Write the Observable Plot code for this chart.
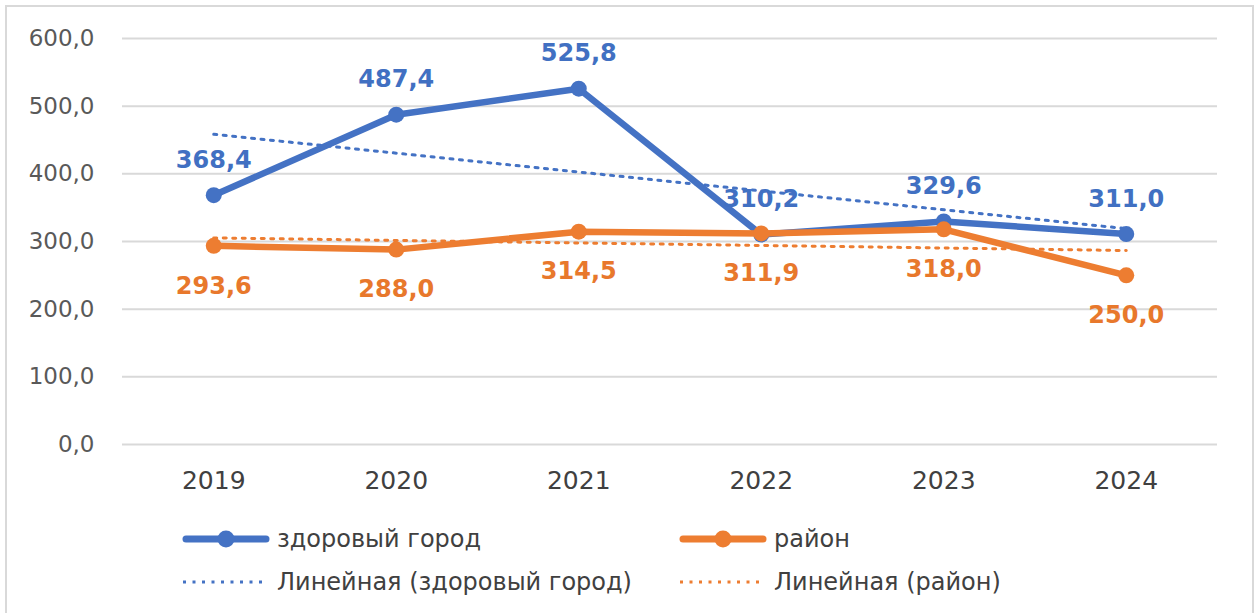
<!DOCTYPE html>
<html><head><meta charset="utf-8">
<script src="https://cdn.jsdelivr.net/npm/d3@7"></script>
<script src="https://cdn.jsdelivr.net/npm/@observablehq/plot@0.6"></script>
<style>
body{margin:0;background:#fff;font-family:"DejaVu Sans",sans-serif;overflow:hidden;}
#frame{position:absolute;left:5px;top:5px;width:1249px;height:640px;border:2px solid #d9d9d9;box-sizing:border-box;}
#chart{position:absolute;left:0;top:0;}
.leg{position:absolute;display:flex;align-items:center;font-size:24px;color:#404040;white-space:nowrap;}
.leg svg{margin-right:7px;flex:none;}
</style></head><body>
<div id="frame"></div>
<div id="chart"></div>
<div id="legend"></div>
<script>
const years = [2019, 2020, 2021, 2022, 2023, 2024];
const cityValues = [368.4, 487.4, 525.8, 310.2, 329.6, 311.0];
const districtValues = [293.6, 288.0, 314.5, 311.9, 318.0, 250.0];
const seriesNames = ["здоровый город", "район"];
const trendNames = ["Линейная (здоровый город)", "Линейная (район)"];
const yTicks = [0, 100, 200, 300, 400, 500, 600];
const colors = ["#4472C4", "#ED7D31"];
const labelColors = ["#4170C2", "#E8782C"];

const fmt = d => d.toFixed(1).replace(".", ",");
const city = years.map((y, i) => ({year: y, value: cityValues[i]}));
const district = years.map((y, i) => ({year: y, value: districtValues[i]}));

const chart = Plot.plot({
  width: 1259,
  height: 505,
  marginLeft: 122,
  marginRight: 42,
  marginTop: 38,
  marginBottom: 61,
  style: {fontFamily: "'DejaVu Sans', sans-serif", fontSize: "23px", color: "#595959", background: "transparent"},
  x: {domain: [2018.5, 2024.5], label: null},
  y: {domain: [0, 600], label: null},
  marks: [
    Plot.gridY(yTicks, {stroke: "#d9d9d9", strokeOpacity: 1, strokeWidth: 2}),
    Plot.axisY(yTicks, {tickFormat: fmt, tickSize: 0, tickPadding: 28, fontSize: 23, fill: "#595959", label: null}),
    Plot.axisX(years, {tickFormat: d => String(d), tickSize: 0, tickPadding: 27, fontSize: 25, fill: "#404040", label: null}),
    Plot.linearRegressionY(city, {x: "year", y: "value", ci: 0, stroke: colors[0], strokeWidth: 3, strokeDasharray: "3 6.5"}),
    Plot.linearRegressionY(district, {x: "year", y: "value", ci: 0, stroke: colors[1], strokeWidth: 3, strokeDasharray: "3 6.5"}),
    Plot.line(city, {x: "year", y: "value", stroke: colors[0], strokeWidth: 6.5, strokeLinejoin: "round", strokeLinecap: "round"}),
    Plot.dot(city, {x: "year", y: "value", r: 8, fill: colors[0]}),
    Plot.line(district, {x: "year", y: "value", stroke: colors[1], strokeWidth: 6.5, strokeLinejoin: "round", strokeLinecap: "round"}),
    Plot.dot(district, {x: "year", y: "value", r: 8, fill: colors[1]}),
    Plot.text(city, {x: "year", y: "value", text: d => fmt(d.value), dy: -35, fill: labelColors[0], fontSize: 24, fontWeight: "bold"}),
    Plot.text(district, {x: "year", y: "value", text: d => fmt(d.value), dy: 40, fill: labelColors[1], fontSize: 24, fontWeight: "bold"})
  ]
});
document.getElementById("chart").appendChild(chart);

// Legend
const legend = document.getElementById("legend");
function addItem(left, top, color, name, dotted) {
  const div = document.createElement("div");
  div.className = "leg";
  div.style.left = left + "px";
  div.style.top = (top - 18) + "px";
  div.style.height = "36px";
  const ns = "http://www.w3.org/2000/svg";
  const s = document.createElementNS(ns, "svg");
  s.setAttribute("width", 88);
  s.setAttribute("height", 20);
  if (dotted) {
    const l = document.createElementNS(ns, "line");
    l.setAttribute("x1", 1); l.setAttribute("x2", 80); l.setAttribute("y1", 10); l.setAttribute("y2", 10);
    l.setAttribute("stroke", color); l.setAttribute("stroke-width", 3); l.setAttribute("stroke-dasharray", "3 6.5");
    s.appendChild(l);
  } else {
    const l = document.createElementNS(ns, "line");
    l.setAttribute("x1", 4); l.setAttribute("x2", 84); l.setAttribute("y1", 10); l.setAttribute("y2", 10);
    l.setAttribute("stroke", color); l.setAttribute("stroke-width", 7); l.setAttribute("stroke-linecap", "round");
    s.appendChild(l);
    const c = document.createElementNS(ns, "circle");
    c.setAttribute("cx", 44); c.setAttribute("cy", 10); c.setAttribute("r", 8.5); c.setAttribute("fill", color);
    s.appendChild(c);
  }
  div.appendChild(s);
  const t = document.createElement("span");
  t.textContent = name;
  div.appendChild(t);
  legend.appendChild(div);
}
addItem(182, 539, colors[0], seriesNames[0], false);
addItem(679, 539, colors[1], seriesNames[1], false);
addItem(182, 582, colors[0], trendNames[0], true);
addItem(679, 582, colors[1], trendNames[1], true);
</script>
</body></html>
